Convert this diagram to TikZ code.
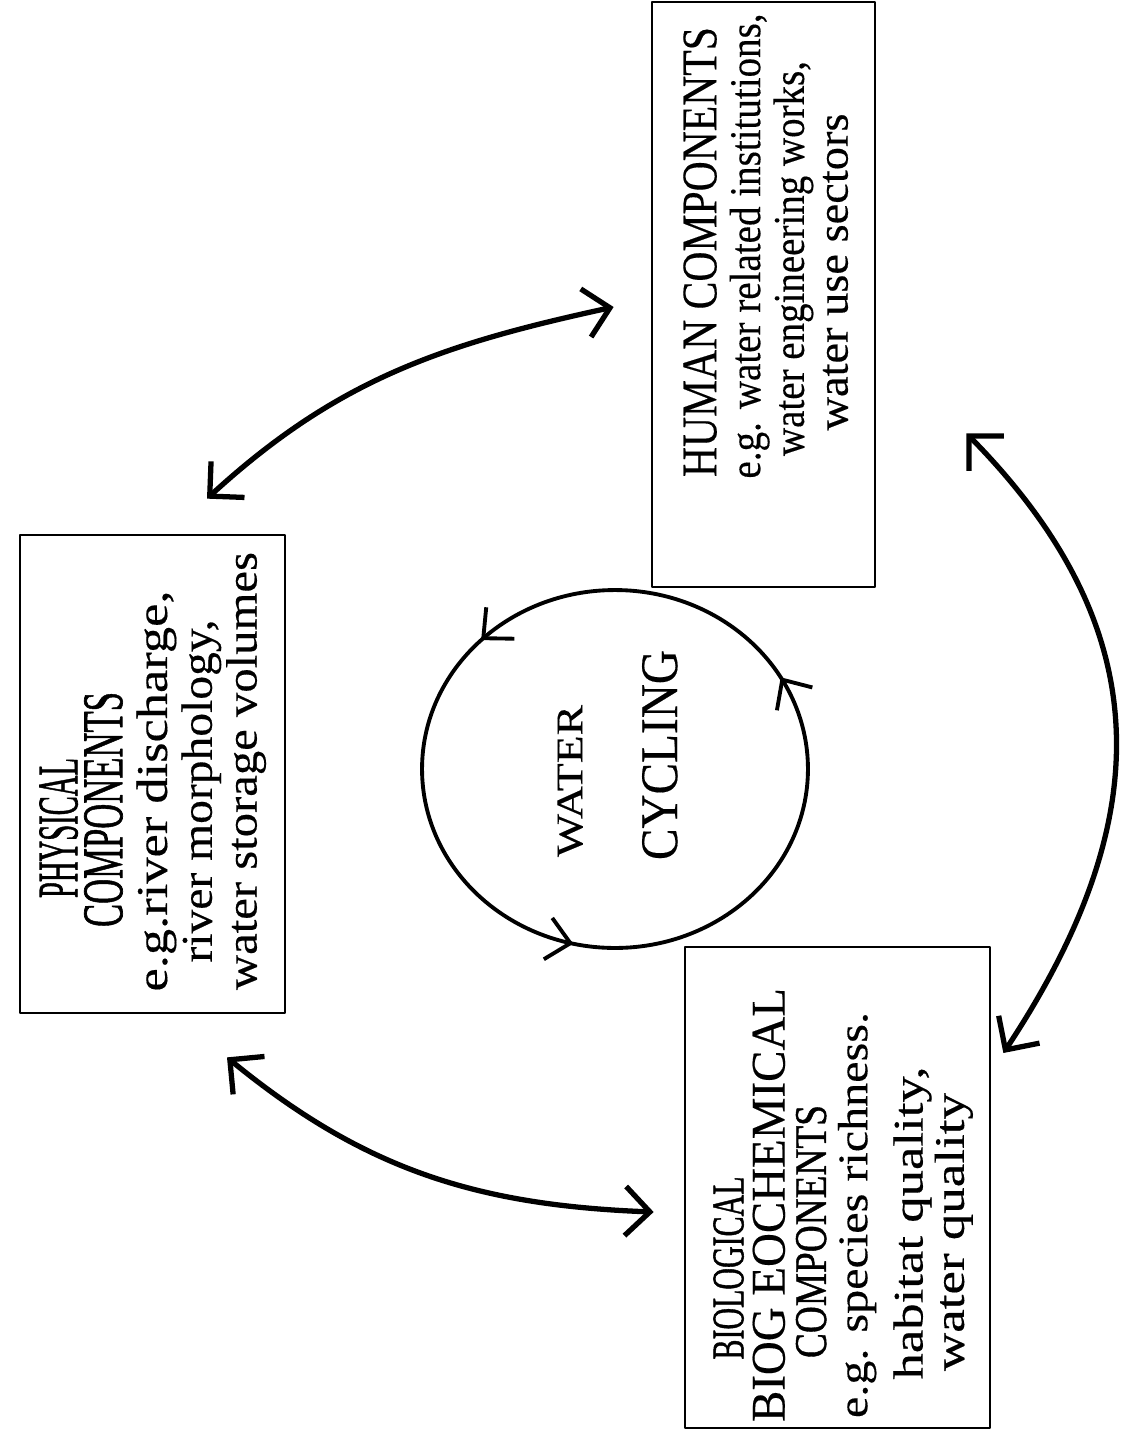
\documentclass[tikz,border=0pt]{standalone}
\usepackage{fontspec}
\setmainfont{Liberation Serif}
\usepackage{graphicx}
\usetikzlibrary{arrows.meta,decorations.markings,calc,bending}
\newlength{\pxu}\setlength{\pxu}{0.02cm}
\newcommand{\lineT}[3]{\hspace*{-#2\pxu}\resizebox{#1\pxu}{\height}{\addfontfeature{FakeBold=0.3}#3}\hspace*{#2\pxu}}
\newcommand{\lineC}[5][0.3]{\hspace*{-#4\pxu}\resizebox{#2\pxu}{#3\pxu}{\addfontfeature{FakeBold=#1}#5}\hspace*{#4\pxu}}
\newcommand{\fsz}[2]{\fontsize{#1}{#2}\selectfont}
\tikzset{cyctip/.tip={Straight Barb[length=13pt,width=24pt]},
         linktip/.tip={Straight Barb[length=14pt,width=28pt]}}
\begin{document}
\lineskiplimit=-100pt
\begin{tikzpicture}[x=0.02cm,y=-0.02cm,line join=round,
  box/.style={draw,line width=1.6pt,inner sep=0pt},
  txt/.style={rotate=90,anchor=north,align=center,inner sep=0pt},
  link/.style={line width=3pt,linktip-linktip}]
\fill[white] (0,0) rectangle (1123,1438);
\useasboundingbox (0,0) rectangle (1123,1438);

% boxes
\node[box,minimum width=5.3cm,minimum height=9.56cm] (phys) at (152.5,774) {};
\node[box,minimum width=4.46cm,minimum height=11.7cm] (hum) at (763.5,294.5) {};
\node[box,minimum width=6.1cm,minimum height=9.62cm] (bio) at (837.5,1187.5) {};

% texts
\node[txt,font=\fsz{25}{25.5}] (physT) at (39,790)
  {\lineC[1.2]{140}{38}{38}{PHYSICAL}\\
   \lineC[1.2]{235}{38}{39}{COMPONENTS}\\
   \lineT{401}{2}{e.g.river discharge,}\\
   \lineT{343}{2}{river morphology,}\\
   \lineT{438}{-19}{water storage volumes}};

\node[txt,font=\fsz{25}{24.9}] (humT) at (683,250)
  {\lineC{450}{33}{2}{HUMAN COMPONENTS}\\
   \lineT{465}{-8}{e.g. water related institutions,}\\
   \lineT{395}{17}{water engineering works,}\\
   \lineT{317}{22}{water use sectors}};

\node[txt,font=\fsz{24}{23.5}] (bioT) at (713,1220)
  {\lineC[1.2]{183}{30}{48}{BIOLOGICAL}\\
   \lineC{434}{32}{-30}{BIOG EOCHEMICAL}\\
   \lineC[1]{253}{30}{23}{COMPONENTS}\\
   \lineT{406}{-10}{e.g. species richness.}\\[8pt]
   \lineT{313}{6}{habitat quality,}\\
   \lineT{278}{12}{water quality}};

% water cycling
\coordinate (cycC) at (615,769);
\draw[line width=2.2pt,postaction={decorate},decoration={markings,
   mark=at position 0.083 with {\arrow{cyctip}},
   mark=at position 0.375 with {\arrow{cyctip}},
   mark=at position 0.714 with {\arrow{cyctip}}}]
  (cycC) ellipse [x radius=3.86cm,y radius=3.58cm];
\node[txt,font=\fsz{25}{53.9}] (cycT) at (557,770)
  {\lineC{152}{25}{11}{WATER}\\
   \lineC{210}{35}{-15}{CYCLING}};

% links
\coordinate (a1) at ($(phys.north)+(54.5,-35)$);
\coordinate (a2) at ($(hum.west)+(-37,12.5)$);
\draw[link] (a1) .. controls (336,379) and (442,344) .. (a2);

\coordinate (b1) at ($(phys.south)+(74.5,43)$);
\coordinate (b2) at ($(bio.west)+(-30,24.5)$);
\draw[link] (b1) .. controls (363,1170) and (477,1206) .. (b2);

\coordinate (c1) at ($(hum.south east)+(90,-155)$);
\coordinate (c2) at ($(bio.east)+(12,-134.5)$);
\draw[link] (c1) .. controls (1162,629) and (1158,822) .. (c2);
\end{tikzpicture}
\end{document}
